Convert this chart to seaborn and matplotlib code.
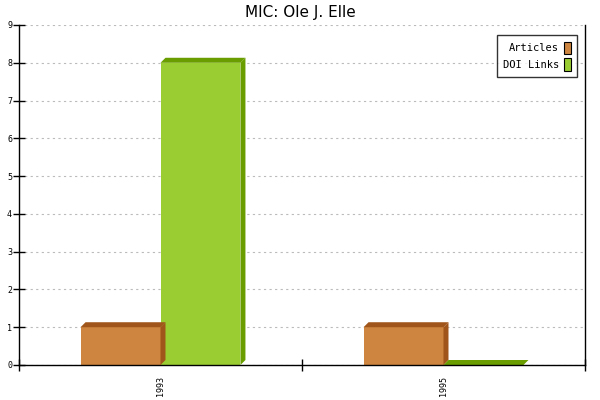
import numpy as np
import pandas as pd
import matplotlib
matplotlib.use("Agg")
import matplotlib.pyplot as plt
import seaborn as sns
from matplotlib.patches import Polygon, Patch

years = ["1993", "1995"]
articles = [1, 1]
doi_links = [8, 0]
series = ["Articles", "DOI Links"]
front_colors = {"Articles": "#CD853F", "DOI Links": "#9ACD32"}
dark_colors = {"Articles": "#A0561A", "DOI Links": "#6A9E00"}

df = pd.DataFrame({
    "year": years * 2,
    "value": articles + doi_links,
    "series": [series[0]] * len(years) + [series[1]] * len(years),
})

sns.set_style("white")
fig = plt.figure(figsize=(6, 4), dpi=100)
ax = fig.add_axes([19 / 600, 35 / 400, 566 / 600, 340 / 400])

sns.barplot(data=df, x="year", y="value", hue="series", palette=front_colors,
            width=0.565, ax=ax, legend=False, saturation=1, edgecolor="none")

ax.set_xlim(-0.5, len(years) - 0.5)
ax.set_ylim(0, 9)

# fake 3d: offset in data units for ~5px
dx = 5 * (len(years) / 566)
dy = 5 * (9 / 340)
for bars, name in zip(ax.containers, series):
    for p in bars.patches:
        x0 = p.get_x()
        w = p.get_width()
        h = p.get_height()
        top = Polygon([(x0, h), (x0 + dx, h + dy), (x0 + w + dx, h + dy), (x0 + w, h)],
                      closed=True, facecolor=dark_colors[name], edgecolor="none", zorder=2)
        side = Polygon([(x0 + w, 0), (x0 + w, h), (x0 + w + dx, h + dy), (x0 + w + dx, dy)],
                       closed=True, facecolor=dark_colors[name], edgecolor="none", zorder=2)
        ax.add_patch(top)
        ax.add_patch(side)

ax.set_yticks(range(0, 10))
ax.yaxis.grid(True, linestyle=(0, (2, 3)), color="#bbbbbb", linewidth=0.8)
ax.set_axisbelow(True)

ax.set_xticks(range(len(years)))
ax.set_xticklabels(years, rotation=90, fontsize=6, family="DejaVu Sans Mono", color="black")
ax.set_xticks(np.arange(-0.5, len(years)), minor=True)
ax.tick_params(axis="x", which="major", length=0, pad=8, bottom=True)
ax.tick_params(axis="x", which="minor", length=8, width=1, direction="inout",
               color="black", bottom=True)
ax.tick_params(axis="y", which="major", length=8, width=1, direction="inout", color="black",
               labelsize=6, labelcolor="black", pad=1, left=True)
for lab in ax.get_yticklabels():
    lab.set_family("DejaVu Sans Mono")

for s in ["left", "bottom", "right"]:
    ax.spines[s].set_visible(True)
    ax.spines[s].set_color("black")
    ax.spines[s].set_linewidth(1)
ax.spines["top"].set_visible(False)

ax.set_xlabel("")
ax.set_ylabel("")
fig.text(0.5, 0.97, "MIC: Ole J. Elle", ha="center", va="center", fontsize=11,
         family="DejaVu Sans", color="black")

handles = [Patch(facecolor=front_colors[s], edgecolor="black", linewidth=0.8) for s in series]
leg = ax.legend(handles, series, loc="upper right", markerfirst=False, frameon=True,
                fancybox=False, handlelength=0.6, handleheight=1.5, handletextpad=0.5,
                borderpad=0.6, labelspacing=0.35, prop={"family": "DejaVu Sans Mono", "size": 7.5},
                bbox_to_anchor=(0.995, 0.985))
leg.get_frame().set_edgecolor("black")
leg.get_frame().set_linewidth(1)
for t in leg.get_texts():
    t.set_color("black")

fig.savefig("out.png", dpi=100)
